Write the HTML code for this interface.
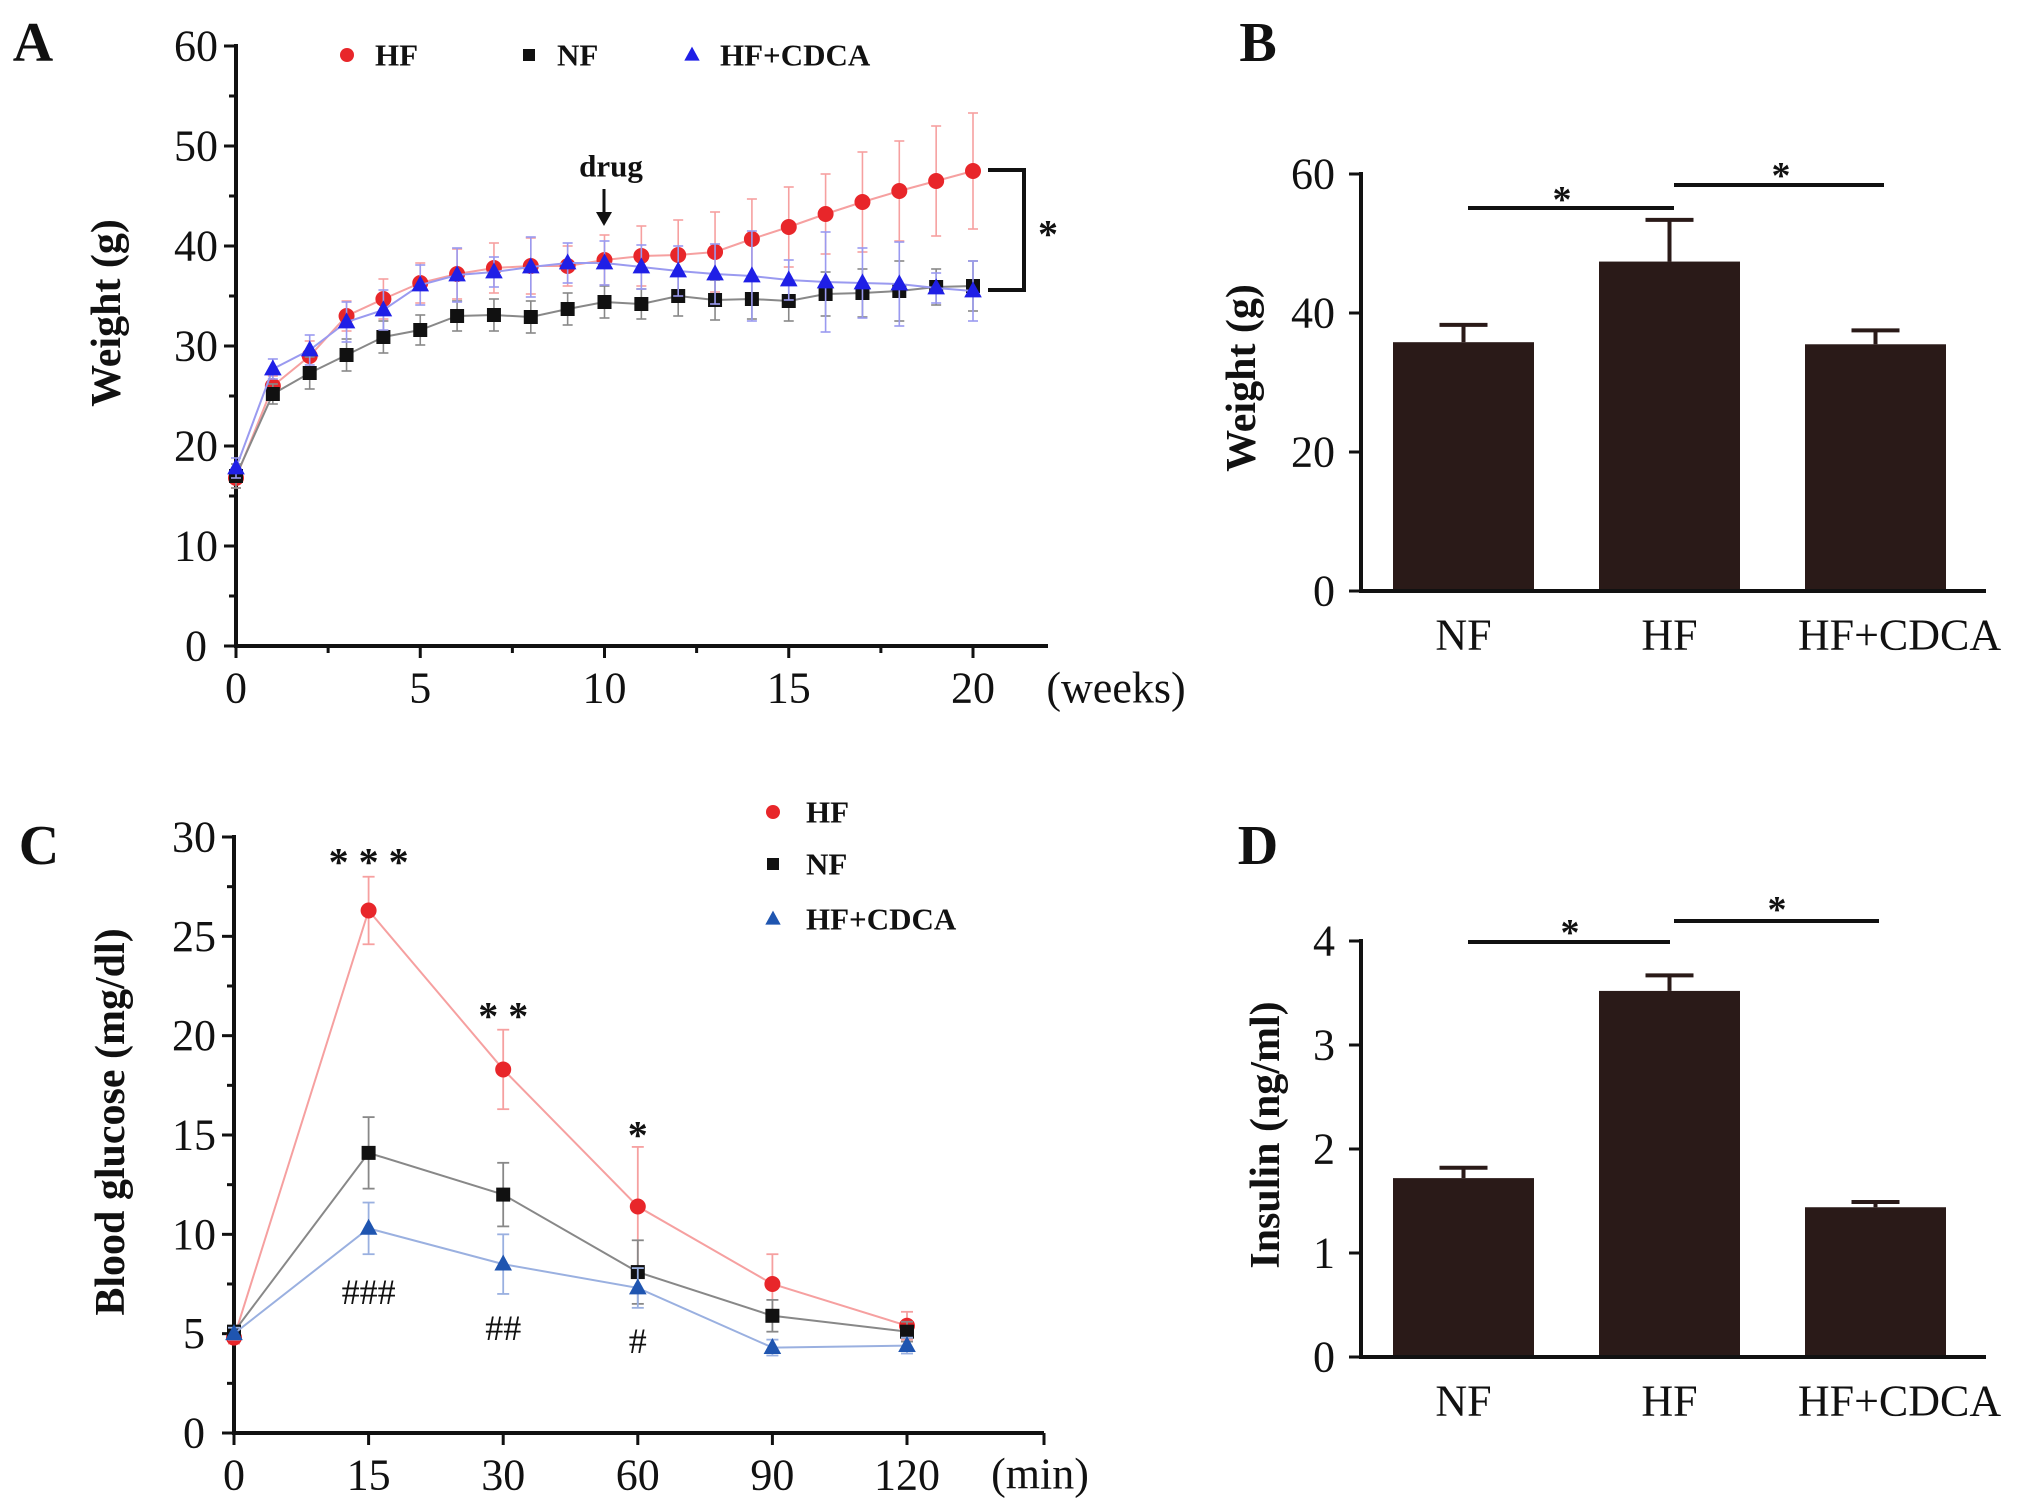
<!DOCTYPE html>
<html><head><meta charset="utf-8"><style>
html,body{margin:0;padding:0;background:#fff;}
svg{display:block;font-family:"Liberation Serif",serif;}
</style></head><body>
<svg id="fig" width="2036" height="1500" viewBox="0 0 2036 1500"></svg>
<script>
// ---- Panel A data ----
const weeks=[0,1,2,3,4,5,6,7,8,9,10,11,12,13,14,15,16,17,18,19,20];
const hfW=[16.8,26,29,33,34.7,36.3,37.2,37.8,38,38,38.6,39,39.1,39.4,40.7,41.9,43.2,44.4,45.5,46.5,47.5];
const hfWErr=[1,1,1.5,1.5,2,2,2.5,2.5,2.8,2,2.5,3,3.5,4,4,4,4,5,5,5.5,5.8];
const nfW=[17,25.2,27.3,29.1,30.9,31.6,33,33.1,32.9,33.7,34.4,34.2,35,34.6,34.7,34.5,35.2,35.3,35.5,35.9,36];
const nfWErr=[1.2,1,1.6,1.6,1.6,1.5,1.5,1.6,1.6,1.6,1.6,1.5,2,2,2,2,2.2,2.4,3,1.8,2.5];
const cdW=[17.8,27.7,29.6,32.4,33.6,36.1,37.1,37.4,37.9,38.3,38.3,37.9,37.5,37.2,37,36.6,36.4,36.3,36.2,35.8,35.5];
const cdWErr=[1,1,1.5,2,2,2,2.7,1.5,3,2,2.2,2.2,2.5,3,4.5,2,5,3.5,4.2,1.5,3];
const aYTicks=[0,10,20,30,40,50,60];
const aXTicks=[0,5,10,15,20];
// ---- Panel B ----
const groups=["NF","HF","HF+CDCA"];
const bVals=[35.8,47.4,35.5];
const bErr=[2.5,6,2];
const bTicks=[0,20,40,60];
// ---- Panel C ----
const times=["0","15","30","60","90","120"];
const hfG=[4.8,26.3,18.3,11.4,7.5,5.4];
const hfGErr=[0.3,1.7,2,3,1.5,0.7];
const nfG=[5.1,14.1,12,8.1,5.9,5.1];
const nfGErr=[0.3,1.8,1.6,1.6,0.8,0.5];
const cdG=[5,10.3,8.5,7.3,4.3,4.4];
const cdGErr=[0.3,1.3,1.5,1,0.4,0.4];
const cTicks=[0,5,10,15,20,25,30];
// ---- Panel D ----
const dVals=[1.72,3.52,1.44];
const dErr=[0.1,0.15,0.05];
const dTicks=[0,1,2,3,4];

const svg=document.getElementById('fig');
const NS='http://www.w3.org/2000/svg';
function mk(tag,attrs,parent,text){const e=document.createElementNS(NS,tag);for(const k in attrs)e.setAttribute(k,attrs[k]);if(text!==undefined)e.textContent=text;(parent||svg).appendChild(e);return e;}
function txt(x,y,s,size,name,opt){opt=opt||{};const t=mk('text',{x:x,y:y,'font-size':size,'text-anchor':opt.anchor||'middle','font-weight':opt.bold?'bold':'normal',fill:'#111','dominant-baseline':'central'},opt.parent,s);if(opt.rot)t.setAttribute('transform','rotate(-90 '+x+' '+y+')');


return t;}
function line(x1,y1,x2,y2,stroke,w,parent){return mk('line',{x1:x1,y1:y1,x2:x2,y2:y2,stroke:stroke,'stroke-width':w},parent);}
function marker(type,x,y,r,color,parent){let e;
 if(type==='c')e=mk('circle',{cx:x,cy:y,r:r,fill:color},parent);
 else if(type==='s')e=mk('rect',{x:x-r,y:y-r,width:2*r,height:2*r,fill:color},parent);
 else e=mk('polygon',{points:(x)+','+(y-r*1.2)+' '+(x-r*1.1)+','+(y+r*0.8)+' '+(x+r*1.1)+','+(y+r*0.8),fill:color},parent);
 return e;}

// ================= Panel A =================
(function(){
 const g=mk('g',{});
 const X0=236,X20=973,XE=1048,Y0=646,Y60=46;
 const xs=v=>X0+(X20-X0)*v/20, ys=v=>Y0-(Y0-Y60)*v/60;
 line(X0,Y0+2,X0,Y60-2,'#111',4,g);line(X0-2,Y0,XE,Y0,'#111',4,g);
 aYTicks.forEach(v=>{line(X0-12,ys(v),X0,ys(v),'#111',3,g);txt(X0-40,ys(v),String(v),44,'y-tick-a',{parent:g});
   if(v<60)line(X0-7,ys(v+5),X0,ys(v+5),'#111',3,g);});
 aXTicks.forEach(v=>{line(xs(v),Y0,xs(v),Y0+12,'#111',3,g);txt(xs(v),Y0+42,String(v),44,'x-tick-a',{parent:g});
   if(v<20)line(xs(v+2.5),Y0,xs(v+2.5),Y0+7,'#111',3,g);});
 txt(1116,688,'(weeks)',44,'x-axis-unit-a',{parent:g});
 txt(107,313,'Weight (g)',42,'y-axis-title-a',{parent:g,bold:true,rot:true});
 txt(33,43,'A',56,'panel-label-a',{parent:g,bold:true});
 const series=[[hfW,hfWErr,'#e8262a','#f6a0a0','c'],[nfW,nfWErr,'#111','#888','s'],[cdW,cdWErr,'#1f1fe6','#9a9af0','t']];
 series.forEach(([vals,err,col,lc,m],si)=>{
  const sg=mk('g',{},g);
  vals.forEach((v,i)=>{const x=xs(weeks[i]);line(x,ys(v-err[i]),x,ys(v+err[i]),lc,1.6,sg);line(x-5,ys(v+err[i]),x+5,ys(v+err[i]),lc,1.6,sg);line(x-5,ys(v-err[i]),x+5,ys(v-err[i]),lc,1.6,sg);});
  mk('polyline',{points:vals.map((v,i)=>xs(weeks[i])+','+ys(v)).join(' '),fill:'none',stroke:lc,'stroke-width':2},sg);
  vals.forEach((v,i)=>{const p=marker(m,xs(weeks[i]),ys(v),m==='s'?7:8,col,sg);});
 });
 const leg=[['c','#e8262a','HF',347],['s','#111','NF',529],['t','#1f1fe6','HF+CDCA',692]];
 leg.forEach(([m,c,l,x])=>{marker(m,x,55,m==='s'?6:7,c,g);txt(x+28,55,l,31,'legend-entry-a',{parent:g,bold:true,anchor:'start'});});
 txt(611,166,'drug',31,'drug-annotation',{parent:g,bold:true});
 line(604,189,604,218,'#111',3,g);mk('polygon',{points:'596,212 612,212 604,226',fill:'#111'},g);
 mk('polyline',{points:'988,170 1024,170 1024,290 988,290',fill:'none',stroke:'#111','stroke-width':4},g);
 txt(1048,234,'*',40,'significance-a',{parent:g,bold:true});
})();

// ================= bar panels =================
function barPanel(name,vals,err,ticks,tmax,Y0,YT,title,titleX,titleY,letter,letterY,sigs){
 const g=mk('g',{});
 const AX=1361,AE=1986,bx=[1393,1599,1805],bw=141;
 const ys=v=>Y0-(Y0-YT)*v/tmax;
 vals.forEach((v,i)=>{const cx=bx[i]+bw/2;
  line(cx,ys(v),cx,ys(v+err[i]),'#2a1a18',4,g);line(cx-24,ys(v+err[i]),cx+24,ys(v+err[i]),'#2a1a18',4,g);
  const r=mk('rect',{x:bx[i],y:ys(v),width:bw,height:Y0-ys(v),fill:'#2a1a18'},g);
  
  txt(cx+(i==2?24:0),Y0+44,groups[i],44,'x-category-label',{parent:g});
 });
 line(AX,Y0+2,AX,YT-2,'#111',4,g);line(AX-2,Y0,AE,Y0,'#111',4,g);
 ticks.forEach(v=>{line(AX-12,ys(v),AX,ys(v),'#111',3,g);txt(AX-26,ys(v),String(v),44,'y-tick',{parent:g,anchor:'end'});});
 txt(titleX,titleY,title,42,'y-axis-title',{parent:g,bold:true,rot:true});
 txt(1258,letterY,letter,56,'panel-label',{parent:g,bold:true});
 sigs.forEach(([x1,x2,y,sx,sy])=>{line(x1,y,x2,y,'#111',4,g);txt(sx,sy,'*',38,'significance-star',{parent:g,bold:true});});
}
barPanel('panel-b-weight-bars',bVals,bErr,bTicks,60,591,174,'Weight (g)',1242,378,'B',43,[[1468,1674,208,1562,200],[1674,1884,185,1781,176]]);
barPanel('panel-d-insulin-bars',dVals,dErr,dTicks,4,1357,941,'Insulin (ng/ml)',1266,1135,'D',846,[[1468,1670,942,1570,933],[1674,1879,921,1777,910]]);

// ================= Panel C =================
(function(){
 const g=mk('g',{});
 const AX=234,AE=1044,Y0=1433,YT=837,xs0=234,xs1=907;
 const xs=i=>xs0+(xs1-xs0)*i/(times.length-1), ys=v=>Y0-(Y0-YT)*v/30;
 line(AX,Y0+2,AX,YT-2,'#111',4,g);line(AX-2,Y0,AE,Y0,'#111',4,g);
 cTicks.forEach(v=>{line(AX-12,ys(v),AX,ys(v),'#111',3,g);txt(AX-40,ys(v),String(v),44,'y-tick-c',{parent:g});
   if(v<30)line(AX-7,ys(v+2.5),AX,ys(v+2.5),'#111',3,g);});
 times.forEach((t,i)=>{line(xs(i),Y0,xs(i),Y0+12,'#111',3,g);txt(xs(i),Y0+42,t,44,'x-tick-c',{parent:g});});
 line(AE,Y0,AE,Y0+12,'#111',3,g);
 txt(1040,1474,'(min)',44,'x-axis-unit-c',{parent:g});
 txt(111,1122,'Blood glucose (mg/dl)',42,'y-axis-title-c',{parent:g,bold:true,rot:true});
 txt(39,846,'C',56,'panel-label-c',{parent:g,bold:true});
 const series=[[hfG,hfGErr,'#e8262a','#f6a0a0','c'],[nfG,nfGErr,'#111','#888','s'],[cdG,cdGErr,'#1f55b0','#9ab0e0','t']];
 series.forEach(([vals,err,col,lc,m],si)=>{
  const sg=mk('g',{},g);
  vals.forEach((v,i)=>{const x=xs(i);line(x,ys(v-err[i]),x,ys(v+err[i]),lc,1.8,sg);line(x-6,ys(v+err[i]),x+6,ys(v+err[i]),lc,1.8,sg);line(x-6,ys(v-err[i]),x+6,ys(v-err[i]),lc,1.8,sg);});
  mk('polyline',{points:vals.map((v,i)=>xs(i)+','+ys(v)).join(' '),fill:'none',stroke:lc,'stroke-width':2},sg);
  vals.forEach((v,i)=>{const p=marker(m,xs(i),ys(v),m==='s'?7:8,col,sg);});
 });
 const leg=[['c','#e8262a','HF',812],['s','#111','NF',864],['t','#1f55b0','HF+CDCA',919]];
 leg.forEach(([m,c,l,y])=>{marker(m,773,y,m==='s'?6:7,c,g);txt(806,y,l,31,'legend-entry-c',{parent:g,bold:true,anchor:'start'});});
 [['* * *',1,862],['* *',2,1016],['*',3,1135]].forEach(([s,i,y])=>txt(xs(i),y,s,40,'significance-star-c',{parent:g,bold:true}));
 [['###',1,1292],['##',2,1328],['#',3,1341]].forEach(([s,i,y])=>txt(xs(i),y,s,36,'significance-hash-c',{parent:g}));
})();
</script>
</body></html>
